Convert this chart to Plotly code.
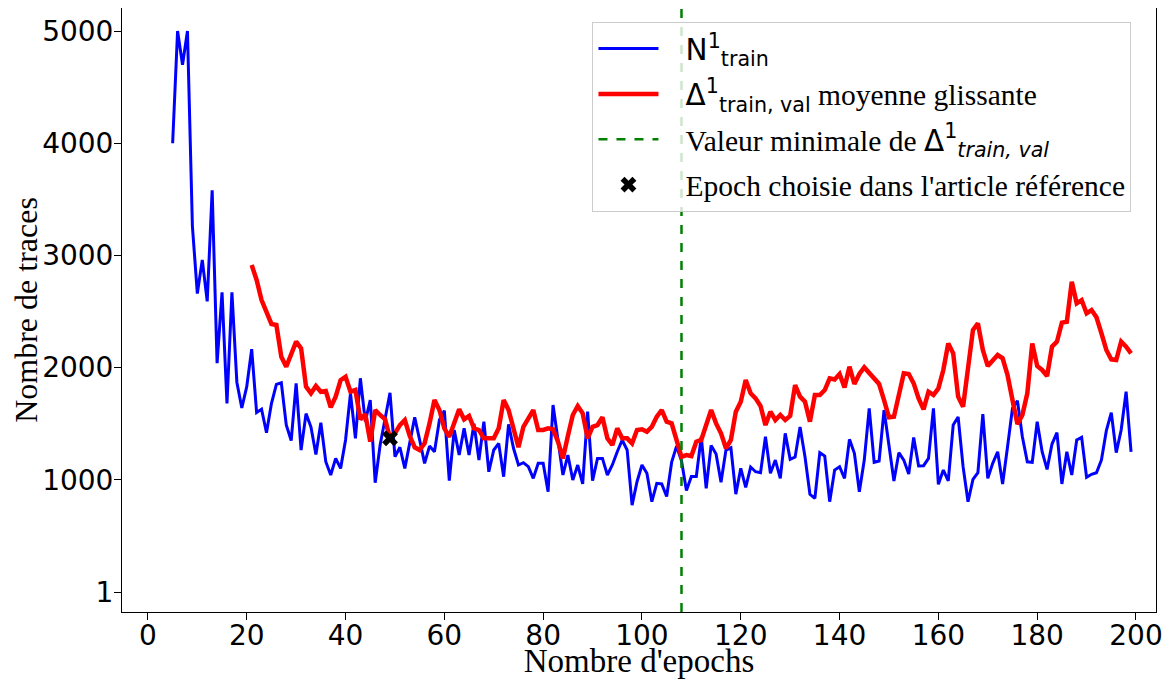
import plotly.graph_objects as go

# ---- data ----
epochs_n = list(range(5, 200))
n_train = [4000, 5000, 4700, 5000, 3260, 2660, 2960, 2590, 3580, 2040,
           2670, 1680, 2670, 1870, 1640, 1830, 2165, 1600, 1630, 1420,
           1680, 1850, 1865, 1490, 1350, 1860, 1265, 1590, 1470, 1225,
           1509, 1161, 1043, 1191, 1102, 1355, 1771, 1370, 1905, 1518,
           1711, 974, 1310, 1533, 1776, 1206, 1290, 1102, 1325, 1557,
           1355, 1147, 1301, 1250, 1533, 1616, 992, 1444, 1221, 1459,
           1221, 1500, 1176, 1518, 1072, 1266, 1325, 1028, 1494, 1281,
           1132, 1153, 1117, 1013, 1147, 1147, 894, 1667, 1355, 1043,
           1221, 998, 1132, 963, 1607, 992, 1191, 1191, 1043, 1132,
           1250, 1355, 1266, 775, 983, 1132, 1058, 805, 969, 963,
           852, 1155, 1300, 1170, 905, 1030, 1030, 1384, 924, 1307,
           1230, 978, 1265, 1285, 872, 1102, 933, 1114, 1072, 1063,
           1384, 1058, 1176, 1013, 1414, 1182, 1203, 1470, 1206, 871,
           835, 1242, 1212, 805, 1087, 1117, 1013, 1361, 1236, 894,
           1176, 1637, 1156, 1168, 1622, 1325, 989, 1242, 1176, 1052,
           1378, 1123, 1126, 1191, 1637, 960, 1087, 990, 1488, 1560,
           1117, 805, 1004, 1063, 1586, 1013, 1147, 1250, 963, 1295,
           1637, 1705, 1384, 1161, 1156, 1518, 1250, 1093, 1319, 1420,
           963, 1250, 1043, 1355, 1378, 1022, 1049, 1063, 1176, 1438,
           1598, 1242, 1444, 1785, 1250]

epochs_delta = list(range(21, 200))
delta_ma = [2914, 2781, 2602, 2487, 2389, 2380, 2097, 2008, 2127, 2231,
            2172, 1830, 1771, 1836, 1785, 1791, 1646, 1741, 1889, 1919,
            1785, 1800, 1539, 1586, 1340, 1622, 1578, 1539, 1370, 1414,
            1488, 1533, 1390, 1290, 1266, 1325, 1503, 1711, 1622, 1459,
            1384, 1503, 1628, 1539, 1569, 1459, 1444, 1370, 1370, 1370,
            1459, 1711, 1622, 1459, 1290, 1473, 1548, 1622, 1444, 1444,
            1459, 1450, 1340, 1191, 1390, 1578, 1658, 1593, 1370, 1473,
            1488, 1557, 1370, 1310, 1459, 1370, 1370, 1325, 1444, 1450,
            1429, 1473, 1563, 1622, 1518, 1503, 1355, 1205, 1221, 1212,
            1340, 1355, 1488, 1622, 1503, 1414, 1281, 1355, 1607, 1696,
            1889, 1771, 1726, 1658, 1488, 1607, 1533, 1578, 1533, 1570,
            1845, 1741, 1696, 1518, 1756, 1756, 1800, 1905, 1895, 1943,
            1824, 2008, 1854, 1943, 2002, 1955, 1905, 1854, 1711, 1557,
            1563, 1756, 1949, 1943, 1860, 1726, 1628, 1785, 1756, 1815,
            1979, 2216, 2127, 1741, 1652, 1994, 2335, 2395, 2157, 2014,
            2062, 2112, 2083, 1934, 1711, 1497, 1578, 1771, 2216, 2014,
            1979, 1925, 2187, 2231, 2401, 2409, 2766, 2573, 2602, 2484,
            2513, 2448, 2306, 2157, 2074, 2068, 2231, 2187, 2127]

min_epoch = 108
chosen_epoch = [49]
chosen_value = [1370]

y_tickvals = [0, 1000, 2000, 3000, 4000, 5000]
y_ticktext = ["1", "1000", "2000", "3000", "4000", "5000"]
x_tickvals = [0, 20, 40, 60, 80, 100, 120, 140, 160, 180, 200]

SANS = "DejaVu Sans"
SERIF = "Liberation Serif"
PAD = "&nbsp;&nbsp;&nbsp;"

def sans(t):
    return '<span style="font-family:%s">%s</span>' % (SANS, t)

fig = go.Figure()
fig.add_trace(go.Scatter(
    x=epochs_n, y=n_train, mode="lines",
    line=dict(color="blue", width=3),
    legendgroup="a",
    name=PAD + sans("N<sup>1</sup><sub>train</sub>")))
fig.add_trace(go.Scatter(
    x=epochs_delta, y=delta_ma, mode="lines",
    line=dict(color="red", width=4.5),
    legendgroup="b",
    name=PAD + sans("Δ<sup>1</sup><sub>train, val</sub>") + " moyenne glissante"))
fig.add_trace(go.Scatter(
    x=[None], y=[None], mode="lines",
    line=dict(color="green", width=2.5, dash="dash"),
    legendgroup="c",
    name=PAD + "Valeur minimale de " + sans("Δ<sup>1</sup><sub><i>train, val</i></sub>")))
fig.add_vline(x=min_epoch, line=dict(color="green", width=2.5, dash="dash"))
fig.add_trace(go.Scatter(
    x=chosen_epoch, y=chosen_value, mode="markers",
    marker=dict(symbol="x", color="black", size=14, line=dict(width=0)),
    legendgroup="d",
    name=PAD + "Epoch choisie dans l'article référence"))

axis_common = dict(showline=True, linecolor="black", linewidth=1, mirror=True,
                   ticks="outside", ticklen=7, tickcolor="black", showgrid=False,
                   zeroline=False, automargin=False,
                   tickfont=dict(family=SANS, size=28, color="black"))

fig.update_xaxes(range=[-5.25, 204.05], tickvals=x_tickvals, ticklabelstandoff=-9,
                 title=dict(text="Nombre d'epochs", font=dict(family=SERIF, size=33, color="black"),
                            standoff=13),
                 **axis_common)
fig.update_yaxes(range=[-178, 5205], tickvals=y_tickvals, ticktext=y_ticktext,
                 ticklabelstandoff=-5,
                 title=dict(text="Nombre de traces", font=dict(family=SERIF, size=32, color="black"),
                            standoff=4),
                 **axis_common)

# the page adds an 8 px body margin, so the figure is sized 8 px smaller
fig.update_layout(
    width=1162, height=671,
    margin=dict(l=114, r=14, t=0, b=67),
    plot_bgcolor="white", paper_bgcolor="white",
    legend=dict(x=0.455, y=0.977, xanchor="left", yanchor="top",
                bgcolor="rgba(255,255,255,0.8)", bordercolor="#cccccc", borderwidth=1,
                font=dict(family=SERIF, size=29.5, color="black"),
                tracegroupgap=4, itemwidth=60),
    showlegend=True,
)

fig.write_html("out.html")
